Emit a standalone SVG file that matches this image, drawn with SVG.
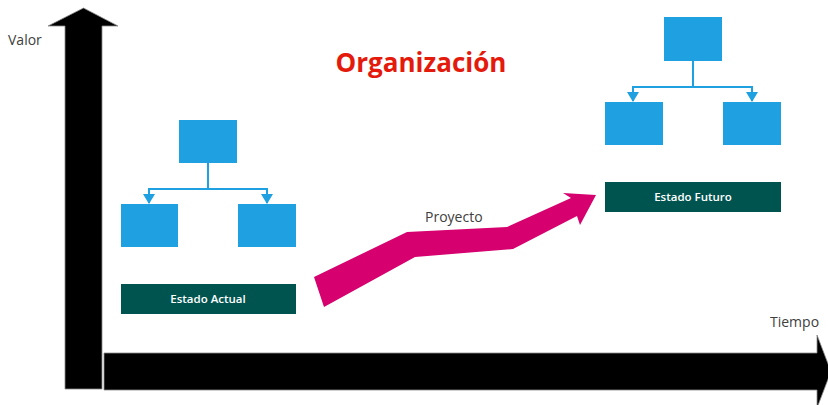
<svg xmlns="http://www.w3.org/2000/svg" width="828" height="405" viewBox="0 0 828 405">
<style>
.axis{fill:#000;stroke:#8a8a8a;stroke-width:0.8}
.box{fill:#1fa0e0}
.conn{fill:none;stroke:#1fa0e0;stroke-width:2}
.state{fill:#005450}
.st{font-family:"Open Sans","Liberation Sans",sans-serif;font-size:11.5px;font-weight:600;fill:#fff;text-anchor:middle}
.lbl{font-family:"Open Sans","Liberation Sans",sans-serif;font-size:14px;fill:#404040}
</style>
<defs>
<marker id="ah" markerWidth="5" markerHeight="6" refX="4.5" refY="3" orient="auto" markerUnits="strokeWidth">
<path d="M0,0 L5,3 L0,6 Z" fill="#1fa0e0"/>
</marker>
</defs>
<rect width="828" height="405" fill="#fff"/>
<g id="axis-valor">
<polygon class="axis" points="83.5,8 118,26 102,26 102,389 65,389 65,26 48,26"/>
<text class="lbl" x="8" y="45">Valor</text>
</g>
<g id="axis-tiempo">
<polygon class="axis" points="104,353 817,353 817,335 831,371.5 817,408 817,390 104,390"/>
<text class="lbl" x="770" y="327">Tiempo</text>
</g>
<g id="title">
<text x="421" y="72" font-family="'Open Sans','Liberation Sans',sans-serif" font-size="26" font-weight="bold" fill="#e31a0c" text-anchor="middle">Organización</text>
</g>
<g id="connectors">
<path class="conn" d="M208,163 V189 H149 V203" marker-end="url(#ah)"/>
<path class="conn" d="M208,189 H267 V203" marker-end="url(#ah)"/>
<path class="conn" d="M693,61 V87 H633 V101" marker-end="url(#ah)"/>
<path class="conn" d="M693,87 H752 V101" marker-end="url(#ah)"/>
</g>
<g id="actual-top"><rect class="box" x="179" y="120" width="58" height="43"/></g>
<g id="actual-left"><rect class="box" x="121" y="204" width="57" height="43"/></g>
<g id="actual-right"><rect class="box" x="238" y="204" width="58" height="43"/></g>
<g id="estado-actual">
<rect class="state" x="121" y="284" width="175" height="30"/>
<text class="st" x="208" y="303">Estado Actual</text>
</g>
<g id="futuro-top"><rect class="box" x="664" y="17" width="58" height="44"/></g>
<g id="futuro-left"><rect class="box" x="605" y="102" width="58" height="43"/></g>
<g id="futuro-right"><rect class="box" x="723" y="102" width="58" height="43"/></g>
<g id="estado-futuro">
<rect class="state" x="605" y="182" width="176" height="30"/>
<text class="st" x="693" y="201">Estado Futuro</text>
</g>
<g id="proyecto">
<polygon fill="#d6006e" points="314,277 407,232 507,227 571,198 563,193 596,195 580,225 577,216 513,249 415,257 324,307"/>
<text class="lbl" x="425" y="222">Proyecto</text>
</g>
</svg>
